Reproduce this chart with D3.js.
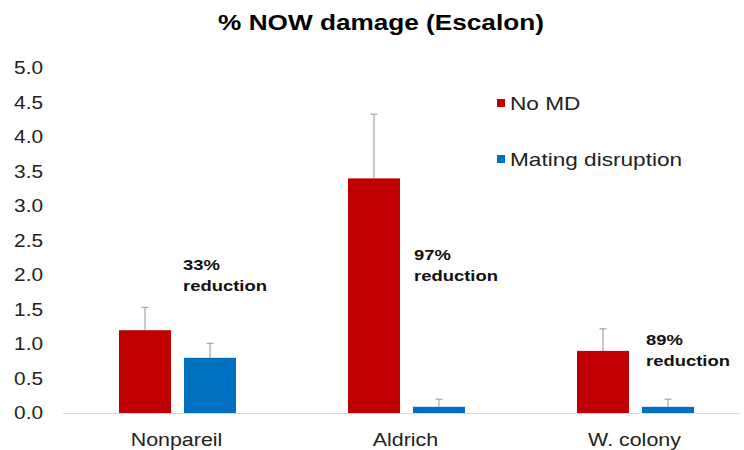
<!DOCTYPE html>
<html><head><meta charset="utf-8">
<script src="https://cdn.jsdelivr.net/npm/d3@7"></script>
<style>body{margin:0;background:#fff}svg{display:block;font-family:Arial,"Liberation Sans",sans-serif}</style>
</head><body><svg id="c" width="744" height="450"></svg>
<script>
const categories = ["Nonpareil", "Aldrich", "W. colony"];
const seriesNames = ["No MD", "Mating disruption"];
const noMD = [1.2, 3.4, 0.9];
const noMDErr = [0.33, 0.93, 0.32];
const matingDisruption = [0.8, 0.09, 0.09];
const matingDisruptionErr = [0.21, 0.11, 0.11];
const reductions = ["33%", "97%", "89%"];
const yTicks = [0, 0.5, 1, 1.5, 2, 2.5, 3, 3.5, 4, 4.5, 5];
const colors = ["#C00000", "#0070C0"];

const SX = 1.19; // horizontal stretch of the text in the reference
const svg = d3.select("#c");
const y = d3.scaleLinear().domain([0, 5]).range([413, 68]);
const x0 = d3.scaleBand().domain(categories).range([63, 750]).paddingInner(0).paddingOuter(0);
const x1 = d3.scaleBand().domain(seriesNames).range([56, x0.bandwidth() - 56]).paddingInner(0.2);

function stext(parent, x, yy, txt, size, anchor, weight, fill) {
  return parent.append("text")
    .attr("transform", `translate(${x},${yy}) scale(${SX},1)`)
    .attr("text-anchor", anchor || "start")
    .attr("font-size", size)
    .attr("font-weight", weight || "normal")
    .attr("fill", fill || "#222")
    .text(txt);
}

stext(svg, 381, 30, "% NOW damage (Escalon)", 22, "middle", "bold", "#000");

// y axis labels
const yAxis = d3.axisLeft(y).tickValues(yTicks).tickFormat(d3.format(".1f")).tickSize(0).tickPadding(0);
const ga = svg.append("g").attr("transform", "translate(43,0)").call(yAxis);
ga.select(".domain").remove();
ga.selectAll("text").attr("font-size", 17.5).attr("fill", "#222")
  .attr("font-family", "Arial,'Liberation Sans',sans-serif")
  .attr("transform", `scale(${SX},1)`);

// baseline
svg.append("line").attr("x1", 63).attr("x2", 740).attr("y1", y(0) + 0.5).attr("y2", y(0) + 0.5)
  .attr("stroke", "#d9d9d9").attr("stroke-width", 1);

const data = categories.map((c, i) => ({
  cat: c,
  vals: [
    {s: seriesNames[0], v: noMD[i], e: noMDErr[i], col: colors[0]},
    {s: seriesNames[1], v: matingDisruption[i], e: matingDisruptionErr[i], col: colors[1]}
  ]
}));

const g = svg.selectAll("g.cat").data(data).join("g").attr("class", "cat")
  .attr("transform", d => `translate(${x0(d.cat)},0)`);

// error bars
g.selectAll("g.err").data(d => d.vals).join("g").attr("class", "err").each(function(d) {
  const cx = x1(d.s) + x1.bandwidth() / 2;
  const s = d3.select(this);
  s.append("line").attr("x1", cx).attr("x2", cx).attr("y1", y(d.v)).attr("y2", y(d.v + d.e))
    .attr("stroke", "#a6a6a6").attr("stroke-width", 1.2);
  s.append("line").attr("x1", cx - 3.5).attr("x2", cx + 3.5).attr("y1", y(d.v + d.e)).attr("y2", y(d.v + d.e))
    .attr("stroke", "#a6a6a6").attr("stroke-width", 1.2);
});

g.selectAll("rect").data(d => d.vals).join("rect")
  .attr("x", d => x1(d.s)).attr("width", x1.bandwidth())
  .attr("y", d => y(d.v)).attr("height", d => y(0) - y(d.v))
  .attr("fill", d => d.col);

// category labels
categories.forEach(c => stext(svg, x0(c) + x0.bandwidth() / 2 - 1, 446, c, 18, "middle"));

// reduction annotations
const annPos = [[183, 270], [414, 260], [646, 345]];
reductions.forEach((r, i) => {
  stext(svg, annPos[i][0], annPos[i][1], r, 15.5, "start", "bold", "#111");
  stext(svg, annPos[i][0], annPos[i][1] + 21, "reduction", 15.5, "start", "bold", "#111");
});

// legend
const lg = svg.selectAll("g.leg").data(seriesNames).join("g").attr("class", "leg")
  .attr("transform", (d, i) => `translate(497,${99 + i * 56})`);
lg.append("rect").attr("width", 8).attr("height", 8).attr("y", 0).attr("fill", (d, i) => colors[i]);
lg.each(function(d) { stext(d3.select(this), 13, 11, d, 19, "start"); });
</script></body></html>
